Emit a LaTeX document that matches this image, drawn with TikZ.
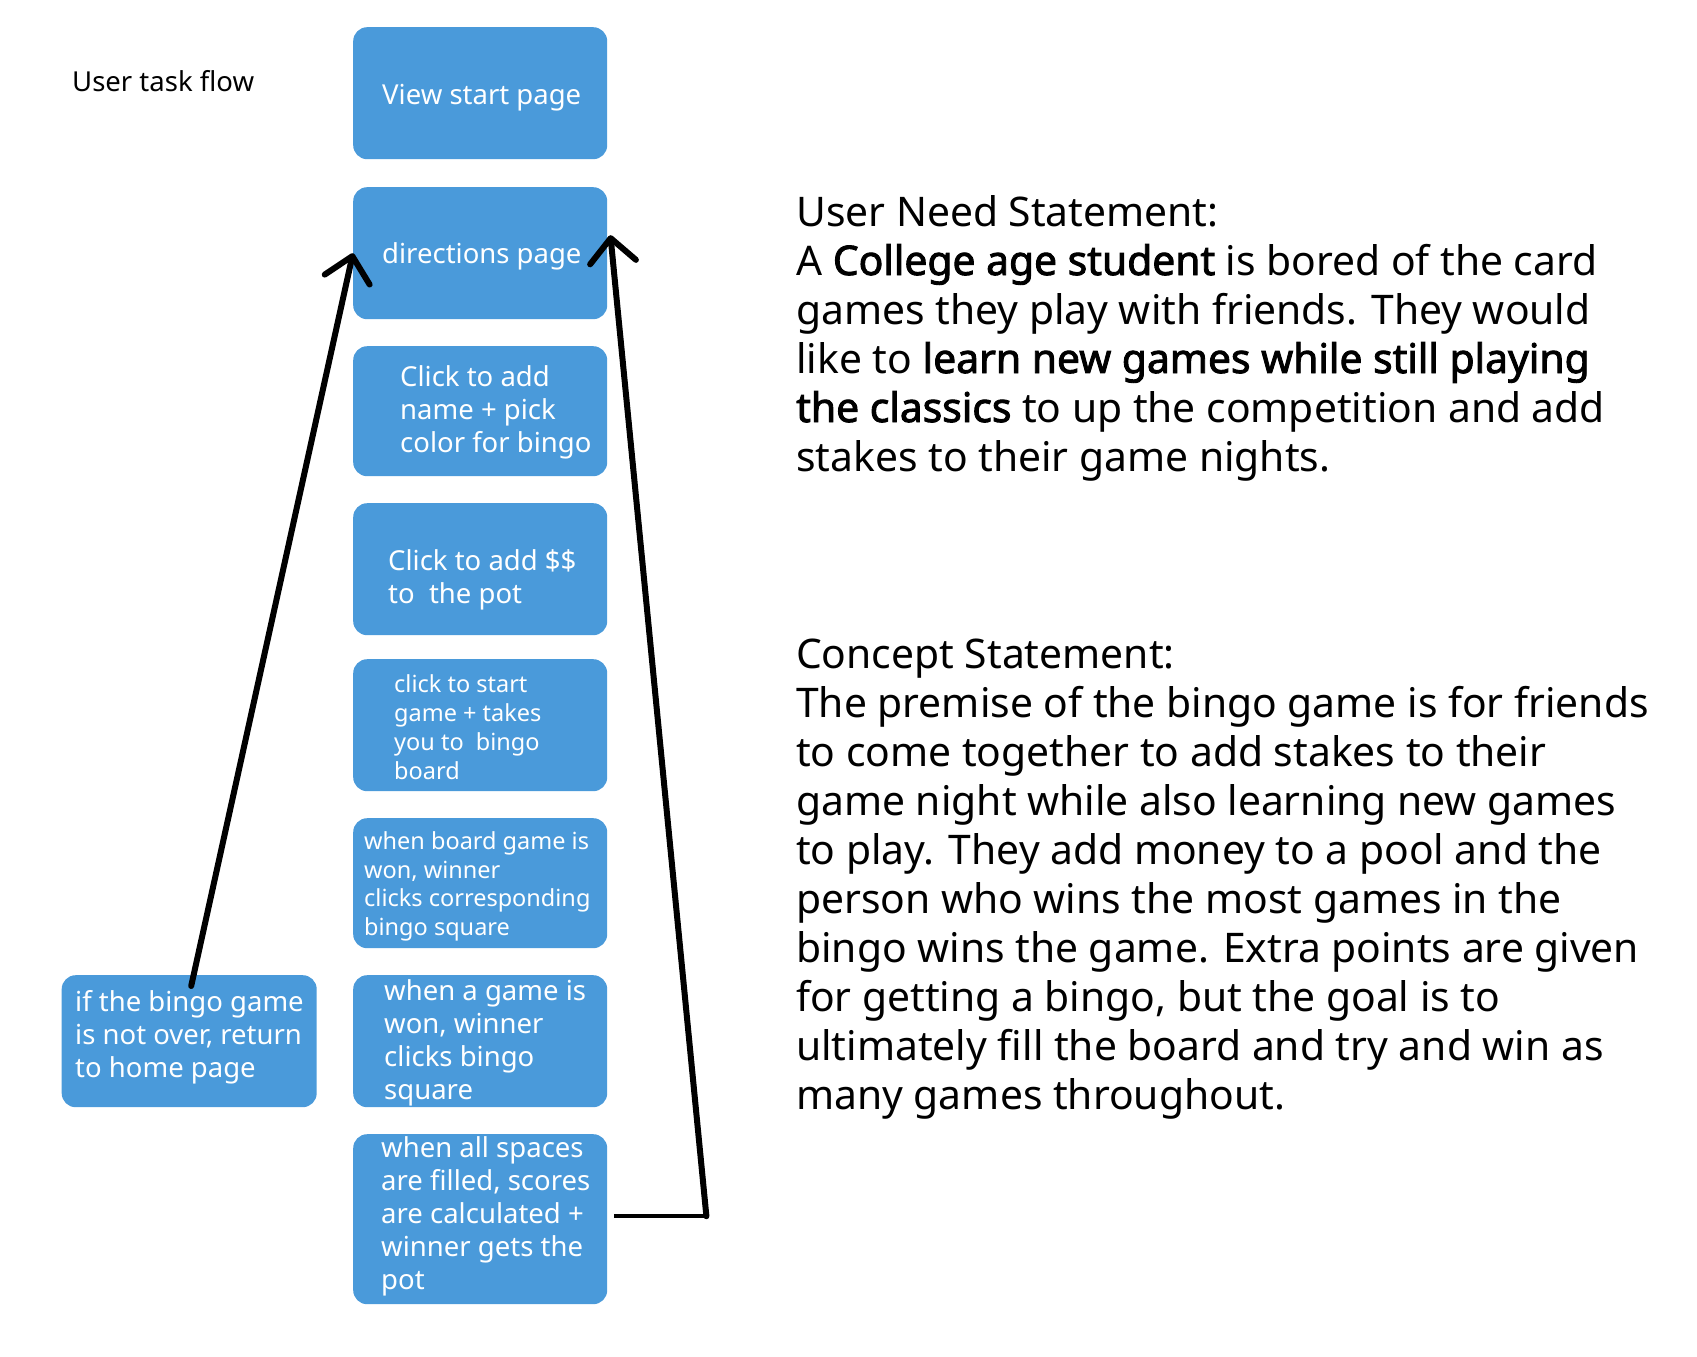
\documentclass[tikz,border=0pt]{standalone}
\usepackage{fontspec}
\setmainfont{Noto Sans}[AutoFakeBold=2.2]
\usetikzlibrary{arrows.meta,calc}
\definecolor{boxblue}{RGB}{74,154,218}
\begin{document}
\begin{tikzpicture}[x=1pt,y=-1pt,
  flowbox/.style={draw=none,fill=boxblue,rounded corners=14pt,minimum width=254pt,minimum height=132pt,inner sep=0pt,anchor=north west},
  boxtext/.style={text=white,font=\fontsize{27.5}{33}\selectfont,align=left,anchor=base west,inner sep=0pt},
  smalltext/.style={boxtext,font=\fontsize{23.5}{28.7}\selectfont},
  bodytext/.style={font=\fontsize{40.8}{49}\selectfont,align=left,anchor=base west,inner sep=0pt},
  conn/.style={line width=6pt,line cap=round,line join=round},
  head/.style={-{Straight Barb[length=24pt,width=46pt,round]}}
]
\useasboundingbox[fill=white] (0,0) rectangle (1697,1357);

% boxes
\node[flowbox] (view)  at (353,27)   {};
\node[flowbox] (dir)   at (353,187)  {};
\node[flowbox,minimum height=130pt] (name)  at (353,346)  {};
\node[flowbox] (pot)   at (353,503)  {};
\node[flowbox] (start) at (353,659)  {};
\node[flowbox,minimum height=130pt] (board) at (353,818)  {};
\node[flowbox] (won)   at (353,975)  {};
\node[flowbox,minimum height=170pt] (all)   at (353,1134) {};
\node[flowbox,minimum width=255pt] (ret)   at (61.5,975) {};

% texts (anchor = baseline of the last line)
\node[boxtext,text=black] (title) at (72,91) {User task flow};
\node[boxtext] (tview)  at (382,104)  {View start page};
\node[boxtext] (tdir)   at (382,263)  {directions page};
\node[boxtext] (tname)  at (400,452)  {Click to add\\name + pick\\color for bingo};
\node[boxtext] (tpot)   at (388,603) {Click to add \$\$\\to~~the pot};
\node[smalltext] (tstart) at (394,779) {click to start\\game + takes\\you to~~bingo\\board};
\node[smalltext] (tboard) at (364,935.5) {when board game is\\won, winner\\clicks corresponding\\bingo square};
\node[boxtext] (twon)   at (384,1099)  {when a game is\\won, winner\\clicks bingo\\square};
\node[boxtext] (tall)   at (381,1289) {when all spaces\\are filled, scores\\are calculated +\\winner gets the\\pot};
\node[boxtext] (tret)   at (75,1077)  {if the bingo game\\is not over, return\\to home page};

\node[bodytext] (need) at (796,471) {User Need Statement:\\
A \textbf{College age student} is bored of the card\\
games they play with friends. They would\\
like to \textbf{learn new games while still playing}\\
\textbf{the classics} to up the competition and add\\
stakes to their game nights.};

\node[bodytext] (concept) at (796,1109) {Concept Statement:\\
The premise of the bingo game is for friends\\
to come together to add stakes to their\\
game night while also learning new games\\
to play. They add money to a pool and the\\
person who wins the most games in the\\
bingo wins the game. Extra points are given\\
for getting a bingo, but the goal is to\\
ultimately fill the board and try and win as\\
many games throughout.};

% connectors
\coordinate (lstart) at ($(ret.north)+(2,11)$);
\draw[conn,head] (lstart) -- (dir.west);
\coordinate (hstart) at ($(all.east)+(7,-3)$);
\coordinate (rc) at ($(hstart)+(92,0)$);
\coordinate (rtip) at ($(dir.east)+(3,-18)$);
\draw[line width=3.5pt] (hstart) -- (rc);
\draw[conn,head] (rc) -- (rtip);
\end{tikzpicture}
\end{document}
